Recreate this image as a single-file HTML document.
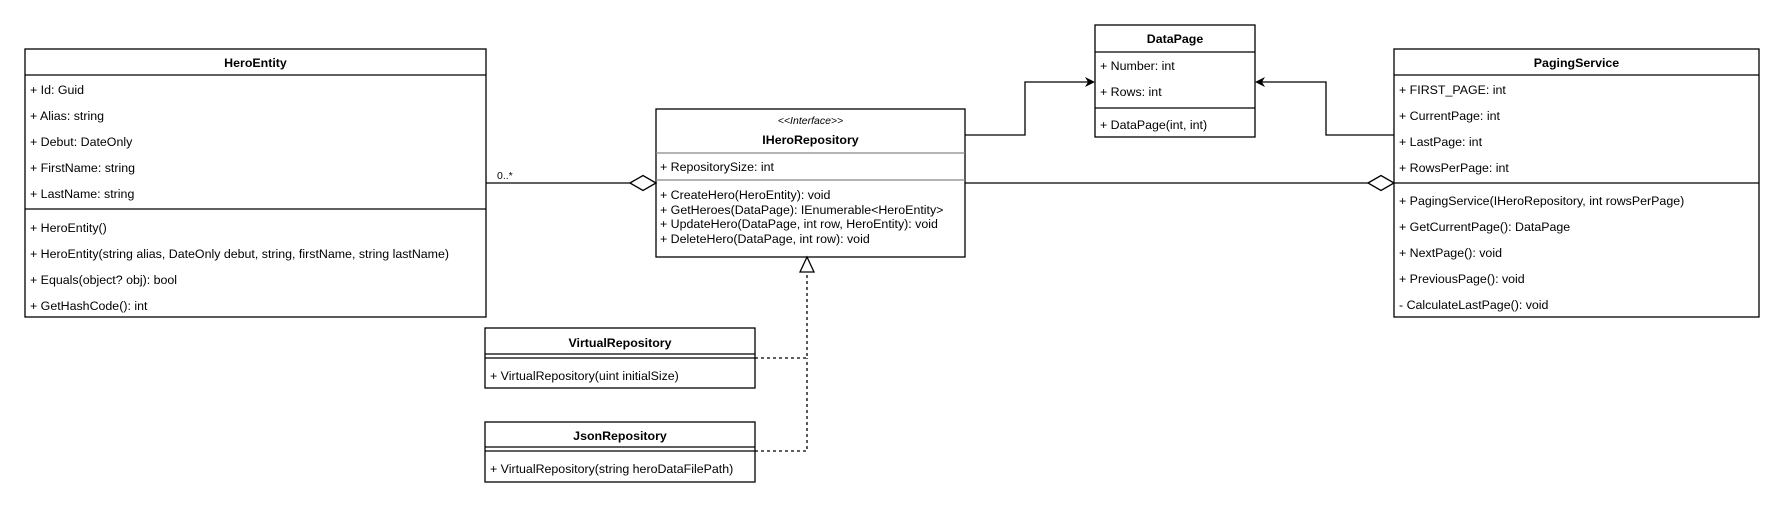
<!DOCTYPE html>
<html><head><meta charset="utf-8"><style>
html,body{margin:0;padding:0;background:#fff;}
svg{display:block;}
text{font-family:"Liberation Sans",Arial,sans-serif;font-size:12.4px;fill:#000;}
.b{font-weight:bold;}
</style></head><body>
<svg width="1785" height="510" viewBox="0 0 1785 510" xmlns="http://www.w3.org/2000/svg">
<rect width="1785" height="510" fill="#fff"/>
<g fill="none" stroke="#000" stroke-width="1.3">
<rect x="25" y="49" width="461" height="268"/>
<line x1="25" y1="75" x2="486" y2="75"/>
<line x1="25" y1="209" x2="486" y2="209"/>
<rect x="656" y="109" width="309" height="148"/>
<line x1="656" y1="153" x2="965" y2="153" stroke="#888"/>
<line x1="656" y1="180" x2="965" y2="180" stroke="#888"/>
<rect x="1095" y="25" width="160" height="112"/>
<line x1="1095" y1="52" x2="1255" y2="52"/>
<line x1="1095" y1="108" x2="1255" y2="108"/>
<rect x="1394" y="49" width="365" height="268"/>
<line x1="1394" y1="75" x2="1759" y2="75"/>
<line x1="1394" y1="183" x2="1759" y2="183"/>
<rect x="485" y="328" width="270" height="60"/>
<line x1="485" y1="354" x2="755" y2="354"/>
<line x1="485" y1="358" x2="755" y2="358"/>
<rect x="485" y="422" width="270" height="60"/>
<line x1="485" y1="447" x2="755" y2="447"/>
<line x1="485" y1="451" x2="755" y2="451"/>
<line x1="486" y1="183" x2="630" y2="183"/>
<polygon points="630,183 643,175.5 656,183 643,190.5" fill="#fff"/>
<line x1="965" y1="183" x2="1368" y2="183"/>
<polygon points="1368,183 1381,175.5 1394,183 1381,190.5" fill="#fff"/>
<polyline points="965,135 1025,135 1025,82 1093,82"/>
<polyline points="1394,135 1326,135 1326,82 1257,82"/>
<polyline points="755,358 807,358 807,272" stroke-dasharray="3,3"/>
<polyline points="755,451 807,451 807,358" stroke-dasharray="3,3"/>
<polygon points="807,257 800,272 814,272" fill="#fff"/>
</g>
<polygon points="1095,82 1085,77 1088,82 1085,87" fill="#000"/>
<polygon points="1255,82 1265,77 1262,82 1265,87" fill="#000"/>
<text x="255.5" y="67" text-anchor="middle" class="b">HeroEntity</text>
<text x="30" y="94">+ Id: Guid</text>
<text x="30" y="120">+ Alias: string</text>
<text x="30" y="146">+ Debut: DateOnly</text>
<text x="30" y="172">+ FirstName: string</text>
<text x="30" y="198">+ LastName: string</text>
<text x="30" y="232">+ HeroEntity()</text>
<text x="30" y="258">+ HeroEntity(string alias, DateOnly debut, string, firstName, string lastName)</text>
<text x="30" y="284">+ Equals(object? obj): bool</text>
<text x="30" y="310">+ GetHashCode(): int</text>
<text x="497" y="179" style="font-size:10.5px">0..*</text>
<text x="810.5" y="124" text-anchor="middle" font-style="italic" style="font-size:10.5px">&lt;&lt;Interface&gt;&gt;</text>
<text x="810.5" y="144" text-anchor="middle" class="b">IHeroRepository</text>
<text x="660" y="171">+ RepositorySize: int</text>
<text x="660" y="199">+ CreateHero(HeroEntity): void</text>
<text x="660" y="214">+ GetHeroes(DataPage): IEnumerable&lt;HeroEntity&gt;</text>
<text x="660" y="228">+ UpdateHero(DataPage, int row, HeroEntity): void</text>
<text x="660" y="243">+ DeleteHero(DataPage, int row): void</text>
<text x="1175" y="43" text-anchor="middle" class="b">DataPage</text>
<text x="1100" y="70">+ Number: int</text>
<text x="1100" y="96">+ Rows: int</text>
<text x="1100" y="129">+ DataPage(int, int)</text>
<text x="1576.5" y="67" text-anchor="middle" class="b">PagingService</text>
<text x="1399" y="94">+ FIRST_PAGE: int</text>
<text x="1399" y="120">+ CurrentPage: int</text>
<text x="1399" y="146">+ LastPage: int</text>
<text x="1399" y="172">+ RowsPerPage: int</text>
<text x="1399" y="205">+ PagingService(IHeroRepository, int rowsPerPage)</text>
<text x="1399" y="231">+ GetCurrentPage(): DataPage</text>
<text x="1399" y="257">+ NextPage(): void</text>
<text x="1399" y="283">+ PreviousPage(): void</text>
<text x="1399" y="309">- CalculateLastPage(): void</text>
<text x="620" y="347" text-anchor="middle" class="b">VirtualRepository</text>
<text x="490" y="380">+ VirtualRepository(uint initialSize)</text>
<text x="620" y="440" text-anchor="middle" class="b">JsonRepository</text>
<text x="490" y="473">+ VirtualRepository(string heroDataFilePath)</text>
</svg>
</body></html>
